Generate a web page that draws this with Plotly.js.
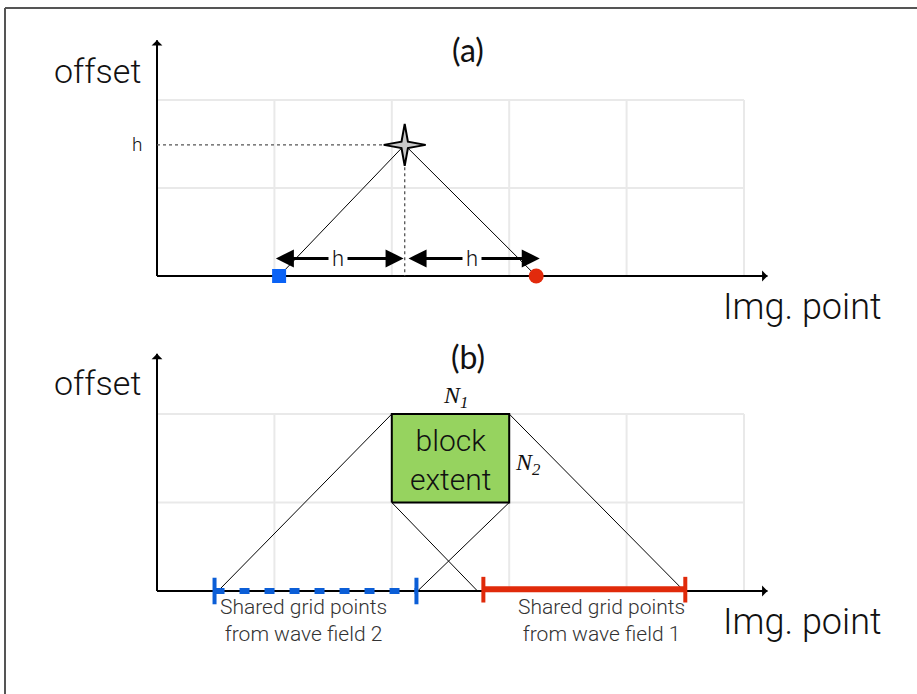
<!DOCTYPE html>
<html>
<head>
<meta charset="utf-8">
<script src="https://cdn.plot.ly/plotly-3.0.1.min.js"></script>
<style>html,body{margin:0;padding:0;background:#fff;} #chart{width:917px;height:694px;}</style>
</head>
<body>
<div id="chart"></div>
<script>
// ---- grid (both panels) ----
const gridX = [0, 1, 2, 3, 4, 5];
const gridY = [0, 1, 2];
const axisTipX = 5.2;
const axisTipY = 2.68;

// ---- panel (a) ----
const imgPointX = 2.11;
const offsetH = 1.49;
const sourceX = 1.04;
const receiverX = 3.23;
const hArrowY = 0.2;
const hArrowLeft = [1.0, 2.1];
const hArrowRight = [2.13, 3.26];
const hLabels = ["h", "h"];

// ---- panel (b) ----
const blockX = [2, 3];
const blockY = [1, 2];
const coneCornersX = [2, 3, 2, 3];
const coneCornersY = [2, 2, 1, 1];
const coneFeetX = [0.52, 4.49, 2.73, 2.22];
const wave2Range = [0.49, 2.21];
const wave1Range = [2.78, 4.50];
const sharedLabels = ["Shared grid points<br>from wave field 2", "Shared grid points<br>from wave field 1"];
const sharedLabelX = [1.25, 3.79];

const FONT = "Roboto, 'Liberation Sans', sans-serif";

const traces = [];
// panel (a) lines from star
traces.push({x:[sourceX, imgPointX, receiverX], y:[0, offsetH, 0], xaxis:'x', yaxis:'y',
  mode:'lines', line:{color:'#000', width:1}, hoverinfo:'skip'});
// dotted guides
traces.push({x:[0, imgPointX, imgPointX], y:[offsetH, offsetH, 0], xaxis:'x', yaxis:'y',
  mode:'lines', line:{color:'#555', width:1.3, dash:'dot'}, hoverinfo:'skip'});
// source / receiver
traces.push({x:[sourceX], y:[0], xaxis:'x', yaxis:'y', mode:'markers',
  marker:{symbol:'square', size:14, color:'#0a62f5'}, cliponaxis:false});
traces.push({x:[receiverX], y:[0], xaxis:'x', yaxis:'y', mode:'markers',
  marker:{symbol:'circle', size:15, color:'#e22a0c'}, cliponaxis:false});

// panel (b) cone lines
for (let i = 0; i < coneCornersX.length; i++) {
  traces.push({x:[coneCornersX[i], coneFeetX[i]], y:[coneCornersY[i], 0], xaxis:'x', yaxis:'y2',
    mode:'lines', line:{color:'#000', width:1}, hoverinfo:'skip'});
}
// block extent box
traces.push({x:[blockX[0], blockX[1], blockX[1], blockX[0], blockX[0]],
  y:[blockY[0], blockY[0], blockY[1], blockY[1], blockY[0]], xaxis:'x', yaxis:'y2',
  mode:'lines', fill:'toself', fillcolor:'#96d35f', line:{color:'#000', width:2}, hoverinfo:'skip'});
// shared ranges
traces.push({x:wave2Range, y:[0, 0], xaxis:'x', yaxis:'y2', mode:'lines',
  line:{color:'#0b5ed7', width:6, dash:'10px,15px'}, hoverinfo:'skip'});
wave2Range.forEach(v => traces.push({x:[v, v], y:[-0.15, 0.15], xaxis:'x', yaxis:'y2', mode:'lines',
  line:{color:'#0b5ed7', width:4}, hoverinfo:'skip'}));
traces.push({x:wave1Range, y:[0.02, 0.02], xaxis:'x', yaxis:'y2', mode:'lines',
  line:{color:'#e02a0a', width:6}, hoverinfo:'skip'});
wave1Range.forEach(v => traces.push({x:[v, v], y:[-0.13, 0.16], xaxis:'x', yaxis:'y2', mode:'lines',
  line:{color:'#e02a0a', width:4}, hoverinfo:'skip'}));

// ---- shapes: frame, grid, axes, star ----
const shapes = [];
shapes.push({type:'line', xref:'paper', yref:'paper', x0:5/917, x1:1.01, y0:1-8/694, y1:1-8/694,
  line:{color:'#555', width:2}});
shapes.push({type:'line', xref:'paper', yref:'paper', x0:5/917, x1:5/917, y0:-0.01, y1:1-8/694,
  line:{color:'#555', width:2}});
['y', 'y2'].forEach(ya => {
  gridX.forEach(gx => shapes.push({type:'line', xref:'x', yref:ya, x0:gx, x1:gx,
    y0:gridY[0], y1:gridY[gridY.length-1], line:{color:'#e9e9e9', width:2}, layer:'below'}));
  gridY.forEach(gy => shapes.push({type:'line', xref:'x', yref:ya, x0:gridX[0], x1:gridX[gridX.length-1],
    y0:gy, y1:gy, line:{color:'#e9e9e9', width:2}, layer:'below'}));
  shapes.push({type:'line', xref:'x', yref:ya, x0:0, x1:axisTipX, y0:0, y1:0,
    line:{color:'#000', width:2}, layer:'below'});
  shapes.push({type:'line', xref:'x', yref:ya, x0:0, x1:0, y0:0, y1:axisTipY,
    line:{color:'#000', width:2}, layer:'below'});
});
// thin four-pointed star marking the image point (pixel-sized, anchored at the data point)
const R = 21, c = 3.2;
shapes.push({type:'path', xref:'x', yref:'y', xsizemode:'pixel', ysizemode:'pixel',
  xanchor:imgPointX, yanchor:offsetH,
  path:`M 0,${R} L ${c},${c} L ${R},0 L ${c},${-c} L 0,${-R} L ${-c},${-c} L ${-R},0 L ${-c},${c} Z`,
  fillcolor:'#c8c8c8', line:{color:'#000', width:2}});

// ---- annotations ----
const ann = [];
function txt(x, y, yref, text, size, extra) {
  return Object.assign({x:x, y:y, xref:'x', yref:yref, text:text, showarrow:false,
    font:{family:FONT, size:size, color:'#111', weight:300}}, extra || {});
}
['y', 'y2'].forEach(ya => {
  ann.push({x:axisTipX, y:0, xref:'x', yref:ya, ax:-10, ay:0, axref:'pixel', ayref:'pixel', text:'',
    showarrow:true, arrowhead:1, arrowsize:1.2, arrowwidth:1.5, arrowcolor:'#000', standoff:0});
  ann.push({x:0, y:axisTipY, xref:'x', yref:ya, ax:0, ay:10, text:'',
    showarrow:true, arrowhead:1, arrowsize:1.2, arrowwidth:1.5, arrowcolor:'#000', standoff:0});
  ann.push(txt(-0.51, ya === 'y' ? 2.33 : 2.35, ya, 'offset', 34));
  ann.push(txt(5.5, -0.35, ya, 'Img. point', 36));
});
ann.push(txt(2.65, 2.57, 'y', '(a)', 32, {font:{family:"Lato, sans-serif", size:32, color:'#111'}}));
ann.push(txt(2.65, 2.65, 'y2', '(b)', 32, {font:{family:"Lato, sans-serif", size:32, color:'#111'}}));
ann.push(txt(-0.17, offsetH, 'y', 'h', 19, {font:{family:FONT, size:19, color:'#111', weight:300}}));
// h double arrows
[hArrowLeft, hArrowRight].forEach((seg, i) => {
  ann.push({x:seg[1], y:hArrowY, ax:seg[0], ay:hArrowY, xref:'x', yref:'y', axref:'x', ayref:'y',
    text:'', showarrow:true, arrowside:'end+start', arrowhead:2, arrowsize:1.2, arrowwidth:3,
    arrowcolor:'#000', standoff:0, startstandoff:0});
  ann.push(txt((seg[0] + seg[1]) / 2 - 0.01, hArrowY, 'y', hLabels[i], 22,
    {bgcolor:'#fff', borderpad:3, font:{family:FONT, size:22, color:'#111', weight:300}}));
});
// panel b texts
ann.push(txt((blockX[0] + blockX[1]) / 2, 1.48, 'y2', 'block<br>extent', 30,
  {font:{family:FONT, size:30, color:'#111', weight:300}}));
ann.push(txt(2.54, 2.19, 'y2', 'N<sub>1</sub>', 24,
  {font:{family:"'Liberation Serif', serif", size:24, color:'#111', style:'italic'}}));
ann.push(txt(3.16, 1.43, 'y2', 'N<sub>2</sub>', 24,
  {font:{family:"'Liberation Serif', serif", size:24, color:'#111', style:'italic'}}));
sharedLabels.forEach((lab, i) => ann.push(txt(sharedLabelX[i], -0.33, 'y2', lab, 21,
  {font:{family:FONT, size:21, color:'#333', weight:300}})));

const layout = {
  width:917, height:694, margin:{l:0, r:0, t:0, b:0},
  paper_bgcolor:'#fff', plot_bgcolor:'rgba(0,0,0,0)', showlegend:false,
  xaxis:{range:[-157/117.4, (917-157)/117.4], visible:false, fixedrange:true},
  yaxis:{range:[-(694-276)/88, 276/88], visible:false, fixedrange:true},
  yaxis2:{range:[-(694-591)/88.5, 591/88.5], visible:false, fixedrange:true, overlaying:'y'},
  shapes:shapes, annotations:ann
};
Plotly.newPlot('chart', traces, layout, {staticPlot:true});
</script>
</body>
</html>
